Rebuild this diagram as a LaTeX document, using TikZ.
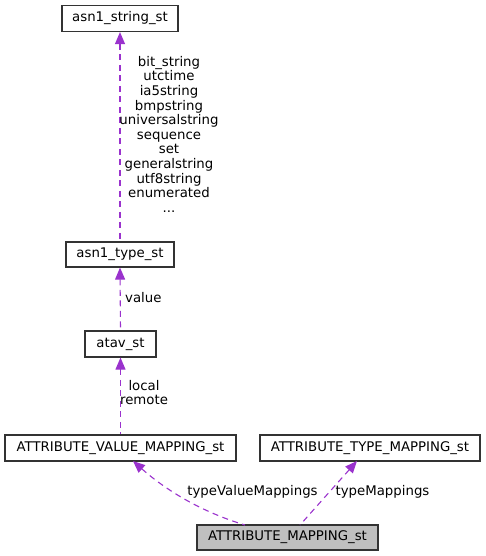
\documentclass[tikz,border=0pt]{standalone}
\usepackage{fontspec}
\setmainfont{DejaVu Sans}
\usetikzlibrary{arrows.meta}
\definecolor{edgecol}{HTML}{9A32CD}
\tikzset{
  cls/.style={draw=black!80, line width=1.2pt, fill=white, inner sep=0pt, font=\fontsize{13.3}{15}\selectfont},
  rel/.style={draw=edgecol, line width=1.1pt, dash pattern=on 6pt off 4.5pt, {Triangle[length=12pt,width=10pt,fill=edgecol]}-},
  lbl/.style={font=\fontsize{13.3}{14.6}\selectfont, align=center, inner sep=0pt}
}
\begin{document}
\begin{tikzpicture}[x=1pt,y=-1pt]
\useasboundingbox (0,0) rectangle (485,556);
\node[cls, minimum width=116pt, minimum height=26pt] (str) at (120,18.5) {asn1\_string\_st};
\node[cls, minimum width=108pt, minimum height=25pt] (type) at (120,254.5) {asn1\_type\_st};
\node[cls, minimum width=71pt, minimum height=26pt] (atav) at (120.5,344) {atav\_st};
\node[cls, minimum width=231pt, minimum height=26pt] (avm) at (120.5,448) {ATTRIBUTE\_VALUE\_MAPPING\_st};
\node[cls, minimum width=220pt, minimum height=26pt] (atm) at (370,448) {ATTRIBUTE\_TYPE\_MAPPING\_st};
\node[cls, fill=black!25, minimum width=181pt, minimum height=25pt] (am) at (287.5,537.5) {ATTRIBUTE\_MAPPING\_st};

\coordinate (amL) at (245,525);
\coordinate (amR) at (300,525);
\draw[rel] (str.south) -- (type.north);
\draw[rel] (type.south) -- (atav.north);
\draw[rel] (atav.south) -- (avm.north -| atav.south);
\draw[rel] (133,461) .. controls (160,485) and (195,510) .. (amL);
\draw[rel] (357,461) -- (amR);

\node[lbl, anchor=north] (l1) at (169,56) {bit\_string\\utctime\\ia5string\\bmpstring\\universalstring\\sequence\\set\\generalstring\\utf8string\\enumerated\\...};
\node[lbl, anchor=west] (l2) at (125,298) {value};
\node[lbl, anchor=north] (l3) at (144,380) {local\\remote};
\node[lbl] (l4) at (252.5,492) {typeValueMappings};
\node[lbl] (l5) at (382.5,492) {typeMappings};
\end{tikzpicture}
\end{document}
